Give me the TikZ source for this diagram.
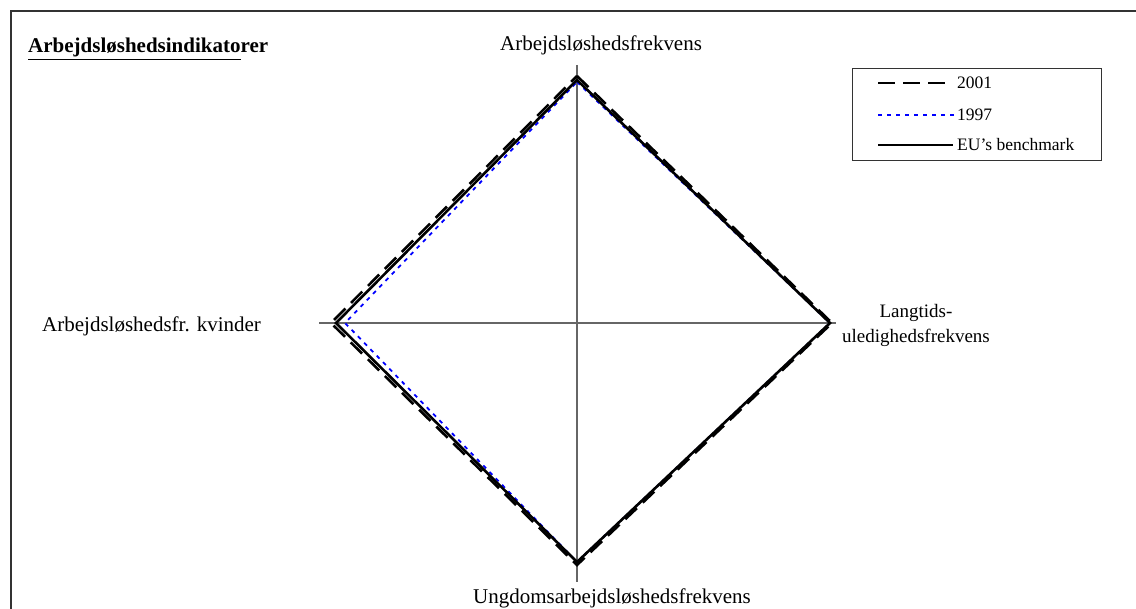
\documentclass[tikz,border=0pt]{standalone}
\usepackage{fontspec}
\setmainfont{Liberation Serif}
\usetikzlibrary{positioning}

\begin{document}
\begin{tikzpicture}[x=1pt, y=-1pt, font=\fontsize{17.5}{20}\selectfont]
% Définition des styles
    \tikzstyle{cadre} = [draw=black!80, line width=2pt]
    \tikzstyle{axe} = [draw=black!60, line width=1.6pt]
    \tikzstyle{serieA} = [draw=black, line width=2.6pt, dash pattern=on 16pt off 8pt]
    \tikzstyle{serieB} = [draw=blue, line width=1.8pt, dash pattern=on 4pt off 5pt]
    \tikzstyle{bench} = [draw=black, line width=2.6pt]
    \tikzstyle{etiquette} = [inner sep=0pt, align=center, font=\fontsize{21}{24}\selectfont]
    \tikzstyle{legtexte} = [inner sep=0pt, anchor=west]

    \useasboundingbox (0,0) rectangle (1136,609);

    % Cadre (seulement haut et gauche)
    \draw[cadre] (11,609) -- (11,11) -- (1136,11);

    % Axes
    \coordinate (c) at (577,323);
    \draw[axe] (577,65) -- (577,582);
    \draw[axe] (319,323) -- (836,323);

    % Sommets des séries
    \coordinate (bn) at (577,80);  \coordinate (be) at (830,323);
    \coordinate (bs) at (577,562); \coordinate (bo) at (336,323);
    \coordinate (an) at (577,76);  \coordinate (ae) at (832,323);
    \coordinate (as) at (577,565); \coordinate (ao) at (331,323);
    \coordinate (vn) at (577,82);  \coordinate (ve) at (830,323);
    \coordinate (vs) at (577,562); \coordinate (vo) at (345,323);

    % Polygones
    \draw[serieB] (vn) -- (ve) -- (vs) -- (vo) -- cycle;
    \draw[bench] (bn) -- (be) -- (bs) -- (bo) -- cycle;
    \draw[serieA] (an) -- (ae) -- (as) -- (ao) -- cycle;

    % Étiquettes des axes
    \node[etiquette, anchor=base west] (nord) at (500,50.5) {Arbejdsløshedsfrekvens};
    \node[etiquette, font=\fontsize{19}{25}\selectfont] (est) at (916,325) {Langtids-\\uledighedsfrekvens};
    \node[etiquette, anchor=base west] (ouest) at (42,332) {Arbejdsløshedsfr. kvinder};
    \node[etiquette, anchor=base west] (sud) at (473,603) {Ungdomsarbejdsløshedsfrekvens};

    % Titre
    \node[etiquette, anchor=base west, font=\fontsize{21}{24}\selectfont\bfseries] (titre) at (28,53) {\underline{Arbejdsløshedsindikato}rer};

    % Légende
    \node[draw=black!80, line width=1pt, minimum width=249pt, minimum height=92pt, anchor=north west] (legende) at (852,68) {};
    \coordinate (la1) at (878,83);  \coordinate (la2) at (947,83);
    \coordinate (lb1) at (878,115); \coordinate (lb2) at (955,115);
    \coordinate (lc1) at (878,145); \coordinate (lc2) at (953,145);
    \draw[serieA, dash pattern=on 17pt off 8pt] (la1) -- (la2);
    \draw[serieB] (lb1) -- (lb2);
    \draw[bench] (lc1) -- (lc2);
    \node[legtexte] (t2001) at (957,83) {2001};
    \node[legtexte] (t1997) at (957,115) {1997};
    \node[legtexte] (teu) at (957,145) {EU's benchmark};
\end{tikzpicture}
\end{document}
